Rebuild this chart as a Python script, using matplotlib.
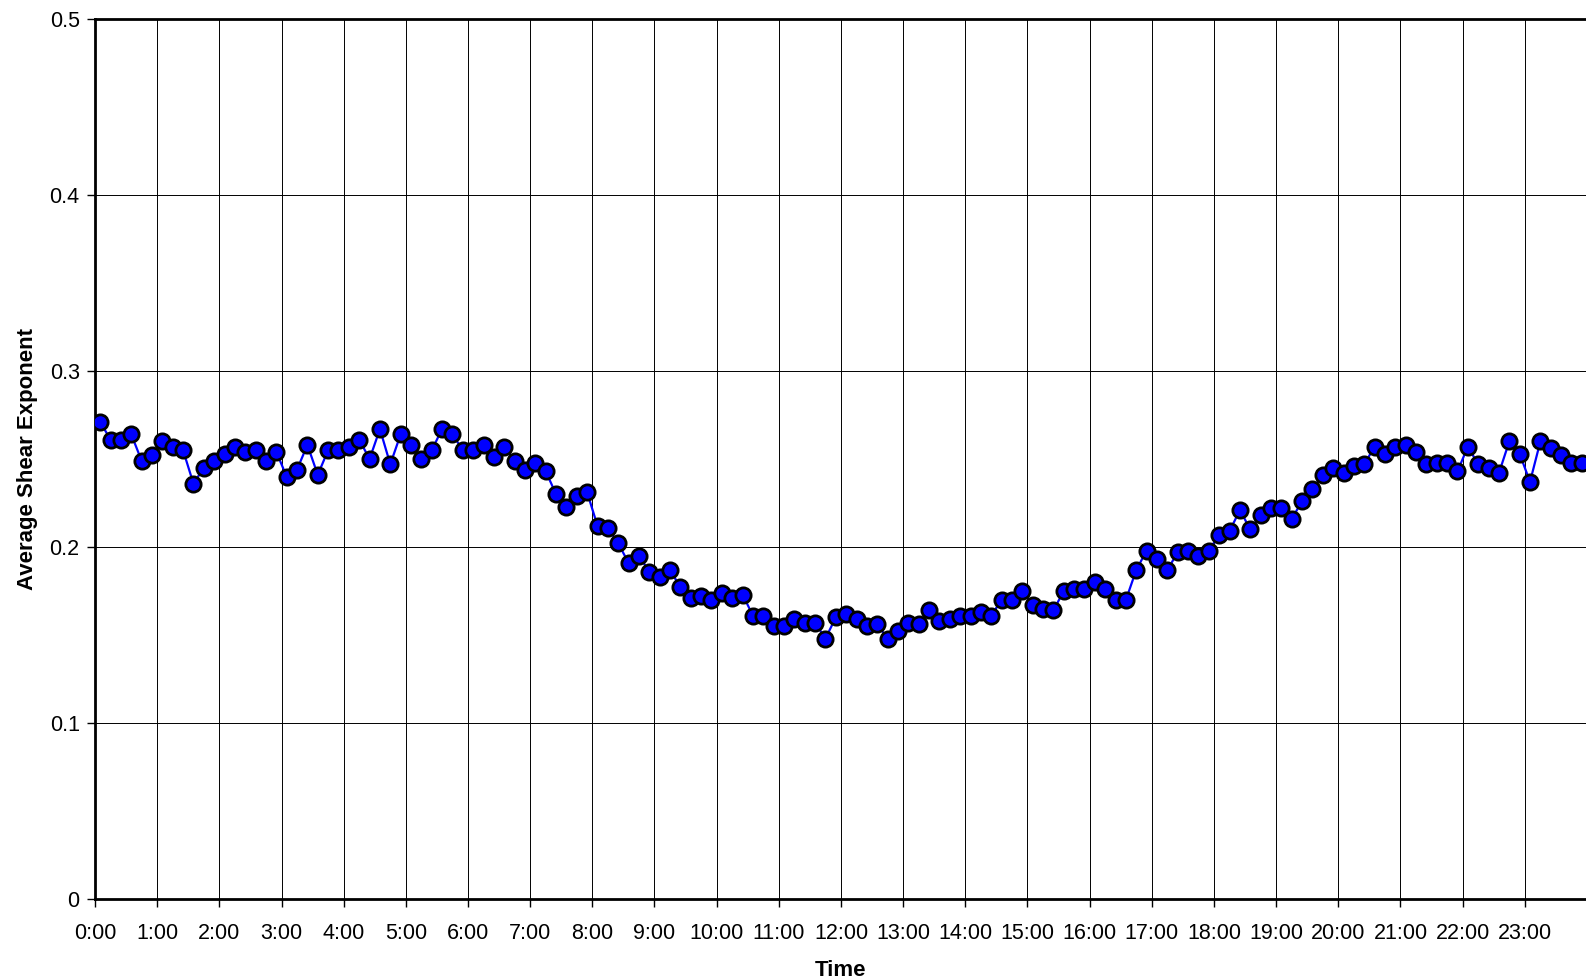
import matplotlib.pyplot as plt

plt.rcParams['font.family'] = ['Liberation Sans', 'DejaVu Sans']

# average shear exponent, one value every 10 minutes (6 per hour)
hour_labels = ['%d:00' % h for h in range(24)]
shear = [
    0.271, 0.261, 0.261, 0.264, 0.249, 0.252,   # 0:00
    0.260, 0.257, 0.255, 0.236, 0.245, 0.249,   # 1:00
    0.253, 0.257, 0.254, 0.255, 0.249, 0.254,   # 2:00
    0.240, 0.244, 0.258, 0.241, 0.255, 0.255,   # 3:00
    0.257, 0.261, 0.250, 0.267, 0.247, 0.264,   # 4:00
    0.258, 0.250, 0.255, 0.267, 0.264, 0.255,   # 5:00
    0.255, 0.258, 0.251, 0.257, 0.249, 0.244,   # 6:00
    0.248, 0.243, 0.230, 0.223, 0.229, 0.231,   # 7:00
    0.212, 0.211, 0.202, 0.191, 0.195, 0.186,   # 8:00
    0.183, 0.187, 0.177, 0.171, 0.172, 0.170,   # 9:00
    0.174, 0.171, 0.173, 0.161, 0.161, 0.155,   # 10:00
    0.155, 0.159, 0.157, 0.157, 0.148, 0.160,   # 11:00
    0.162, 0.159, 0.155, 0.156, 0.148, 0.152,   # 12:00
    0.157, 0.156, 0.164, 0.158, 0.159, 0.161,   # 13:00
    0.161, 0.163, 0.161, 0.170, 0.170, 0.175,   # 14:00
    0.167, 0.165, 0.164, 0.175, 0.176, 0.176,   # 15:00
    0.180, 0.176, 0.170, 0.170, 0.187, 0.198,   # 16:00
    0.193, 0.187, 0.197, 0.198, 0.195, 0.198,   # 17:00
    0.207, 0.209, 0.221, 0.210, 0.218, 0.222,   # 18:00
    0.222, 0.216, 0.226, 0.233, 0.241, 0.245,   # 19:00
    0.242, 0.246, 0.247, 0.257, 0.253, 0.257,   # 20:00
    0.258, 0.254, 0.247, 0.248, 0.248, 0.243,   # 21:00
    0.257, 0.247, 0.245, 0.242, 0.260, 0.253,   # 22:00
    0.237, 0.260, 0.256, 0.252, 0.248, 0.248,   # 23:00
]

x = [i + 0.5 for i in range(len(shear))]

fig = plt.figure(figsize=(15.86, 9.8), dpi=100)
ax = fig.add_axes([95 / 1586, 1 - 899 / 980, 1492 / 1586, 880 / 980])

ax.plot(x, shear, '-o', color='#0000ff', lw=1.6, markersize=11,
        markerfacecolor='#0000ff', markeredgecolor='black', markeredgewidth=2.0,
        clip_on=True, zorder=3)

ax.set_xlim(0, 144)
ax.set_ylim(0, 0.5)
ax.set_xticks(range(0, 144, 6))
ax.set_xticklabels(hour_labels)
ax.set_yticks([0, 0.1, 0.2, 0.3, 0.4, 0.5])
ax.set_yticklabels(['0', '0.1', '0.2', '0.3', '0.4', '0.5'])

ax.grid(True, color='black', lw=0.7)
ax.tick_params(axis='both', direction='out', length=6, width=1, labelsize=15.5, colors='black')
ax.tick_params(axis='x', pad=11)
ax.tick_params(axis='y', pad=5)

for side in ['left', 'bottom', 'top']:
    ax.spines[side].set_linewidth(2)
    ax.spines[side].set_color('black')
ax.spines['right'].set_visible(False)

ax.set_xlabel('Time', fontsize=16, fontweight='bold', labelpad=12)
ax.set_ylabel('Average Shear Exponent', fontsize=16, fontweight='bold', labelpad=8)

fig.savefig('out.png', dpi=100)
